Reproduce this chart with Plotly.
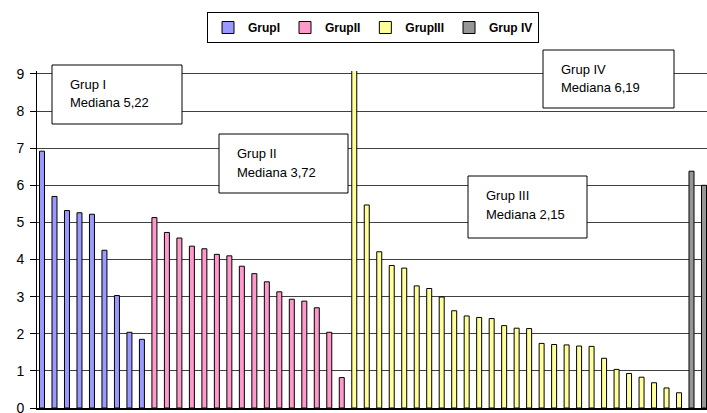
import plotly.graph_objects as go

W, H = 707, 413
M_L, M_R, M_T, M_B = 37, 0, 71, 5

# valors llegits del gràfic
grup1 = [6.92, 5.70, 5.32, 5.26, 5.22, 4.25, 3.03, 2.04, 1.85]
grup2 = [5.13, 4.73, 4.58, 4.36, 4.29, 4.14, 4.10, 3.82, 3.62, 3.40, 3.13, 2.93,
         2.88, 2.70, 2.04, 0.82]
grup3 = [9.20, 5.47, 4.21, 3.84, 3.77, 3.29, 3.22, 2.99, 2.62, 2.48, 2.44, 2.41,
         2.22, 2.15, 2.14, 1.74, 1.71, 1.70, 1.67, 1.66, 1.34, 1.04, 0.93, 0.83,
         0.68, 0.54, 0.41]
grup4 = [6.38, 6.00]

names = ["GrupI", "GrupII", "GrupIII", "Grup IV"]
colors = ["#9999FF", "#FF99CC", "#FFFF99", "#969696"]
medianes = [("Grup I", "Mediana 5,22"), ("Grup II", "Mediana 3,72"),
            ("Grup III", "Mediana 2,15"), ("Grup IV", "Mediana 6,19")]
y_ticks = [0, 1, 2, 3, 4, 5, 6, 7, 8, 9]

# caixes dels textos en píxels: (esquerra, dalt, dreta, baix)
boxes = [(52, 65, 182, 124), (219, 134, 348, 193), (468, 176, 587, 238), (543, 50, 674, 108)]

PW = W - M_L - M_R
PH = H - M_T - M_B


def px(x):
    return (x - M_L) / PW


def py(y):
    return (H - M_B - y) / PH


fig = go.Figure()
start = 0
for name, color, vals in zip(names, colors, [grup1, grup2, grup3, grup4]):
    xs = list(range(start, start + len(vals)))
    start += len(vals)
    fig.add_trace(go.Bar(
        x=xs, y=vals, name=name, width=0.4,
        marker=dict(color=color, line=dict(color="black", width=1)),
    ))

for (l1, l2), (x0, y0, x1, y1) in zip(medianes, boxes):
    fig.add_shape(type="rect", xref="paper", yref="paper",
                  x0=px(x0), x1=px(x1), y0=py(y0), y1=py(y1),
                  fillcolor="white", line=dict(color="black", width=1), layer="above")
    for txt, dy in ((l1, 19), (l2, 38)):
        fig.add_annotation(xref="paper", yref="paper", x=px(x0 + 16), y=py(y0 + dy),
                           xanchor="left", yanchor="middle", text=txt, showarrow=False,
                           font=dict(size=13, color="black"))

fig.update_layout(
    width=W, height=H,
    margin=dict(l=M_L, r=M_R, t=M_T, b=M_B, pad=0, autoexpand=False),
    paper_bgcolor="white", plot_bgcolor="white",
    font=dict(family="Liberation Sans, Arial", color="black"),
    barmode="overlay",
    showlegend=True,
    legend=dict(orientation="h", x=px(373), xanchor="center", y=py(12), yanchor="top",
                bordercolor="black", borderwidth=1, bgcolor="white",
                font=dict(size=12, weight="bold"), itemwidth=30, traceorder="normal"),
    xaxis=dict(range=[-0.4, 53.24], showticklabels=False, ticks="", showgrid=False,
               zeroline=False, showline=True, linecolor="black", linewidth=1.5,
               fixedrange=True),
    yaxis=dict(range=[0, 9.08], tickvals=y_ticks, ticks="outside", ticklen=6,
               tickcolor="black", showline=True, linecolor="black", linewidth=1,
               showgrid=True, gridcolor="#404040", gridwidth=1, zeroline=False,
               tickfont=dict(size=14), ticklabelstandoff=3, ticklabeloverflow="allow",
               fixedrange=True),
)

# sense el marge per defecte del body la figura ocupa tota la finestra
fig.write_html("out.html", config={"displayModeBar": False},
               post_script="document.body.style.margin='0';")
